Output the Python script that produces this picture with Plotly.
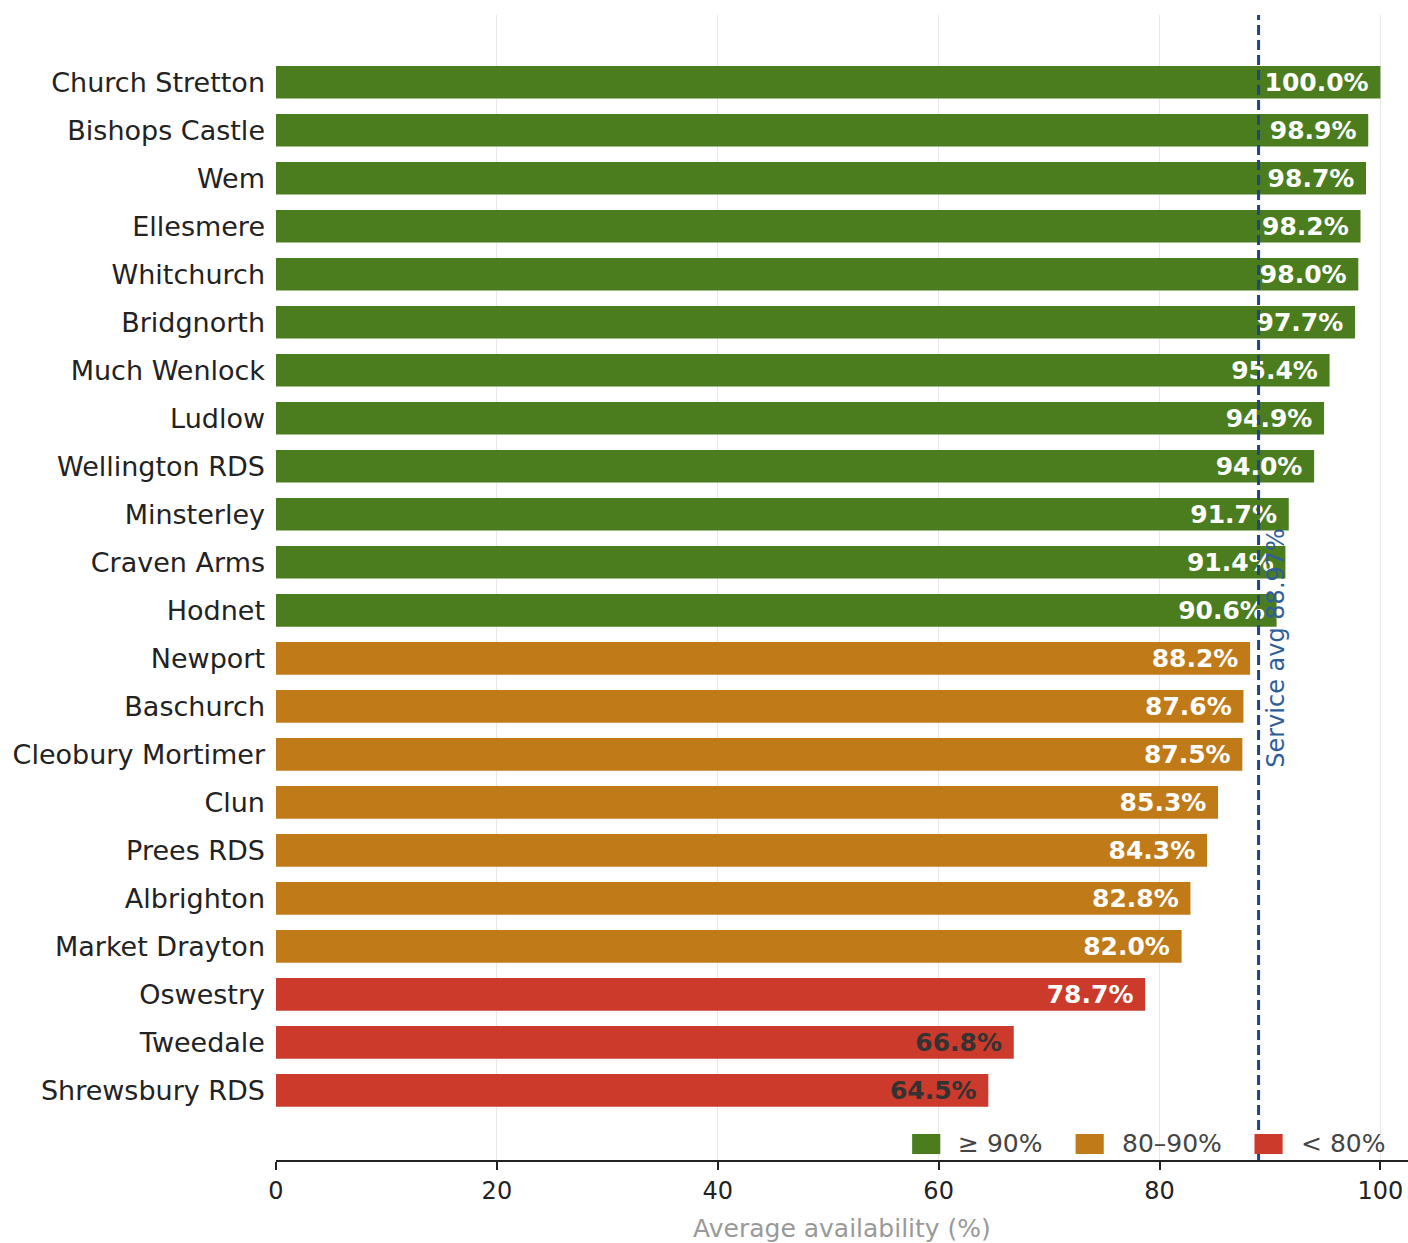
import plotly.graph_objects as go

stations = ["Church Stretton", "Bishops Castle", "Wem", "Ellesmere", "Whitchurch", "Bridgnorth",
            "Much Wenlock", "Ludlow", "Wellington RDS", "Minsterley", "Craven Arms", "Hodnet",
            "Newport", "Baschurch", "Cleobury Mortimer", "Clun", "Prees RDS", "Albrighton",
            "Market Drayton", "Oswestry", "Tweedale", "Shrewsbury RDS"]
availability = [100.0, 98.9, 98.7, 98.2, 98.0, 97.7, 95.4, 94.9, 94.0, 91.7, 91.4, 90.6,
                88.2, 87.6, 87.5, 85.3, 84.3, 82.8, 82.0, 78.7, 66.8, 64.5]
service_avg = 88.97
x_ticks = [0, 20, 40, 60, 80, 100]

groups = [
    ("≥ 90%", "#4b7d1f", lambda v: v >= 90),
    ("80–90%", "#c17a18", lambda v: 80 <= v < 90),
    ("< 80%", "#cc3a2c", lambda v: v < 80),
]

fig = go.Figure()
for name, color, cond in groups:
    ys = [s for s, v in zip(stations, availability) if cond(v)]
    xs = [v for v in availability if cond(v)]
    tcolors = ["#ffffff" if v >= 70 else "#333333" for v in xs]
    fig.add_trace(go.Bar(
        y=ys, x=xs, orientation="h", name=name,
        marker=dict(color=color, line=dict(width=0)),
        width=0.68,
        text=[f"{v:.1f}%\u00a0" for v in xs],
        textposition="inside", insidetextanchor="end",
        constraintext="none", textangle=0,
        textfont=dict(family="DejaVu Sans", size=25, color=tcolors, weight="bold"),
        cliponaxis=False, showlegend=False,
    ))

fig.add_shape(type="line", x0=service_avg, x1=service_avg, y0=0, y1=1,
              xref="x", yref="paper",
              line=dict(color="#1f4680", width=3, dash="10px,5px"))
fig.add_annotation(x=service_avg, y=0.447, xref="x", yref="paper",
                   text=f"Service avg {service_avg:.2f}%", textangle=-90,
                   showarrow=False, xanchor="left", yanchor="middle", xshift=2,
                   font=dict(family="DejaVu Sans", size=24, color="#2e5e98"))

# legend drawn manually (squares + labels) in the lower-right corner of the plot
legend_items = [("≥ 90%", "#4b7d1f", 57.6), ("80–90%", "#c17a18", 72.4), ("< 80%", "#cc3a2c", 88.6)]
for label, color, x0 in legend_items:
    fig.add_shape(type="rect", x0=x0, x1=x0 + 2.55, y0=0.0052, y1=0.0227,
                  xref="x", yref="paper", fillcolor=color, line=dict(width=0))
    fig.add_annotation(x=x0 + 2.55, y=0.0145, xref="x", yref="paper", text=label,
                       showarrow=False, xanchor="left", yanchor="middle", xshift=16,
                       font=dict(family="DejaVu Sans", size=25, color="#444444"))

fig.update_layout(
    width=1408, height=1243,
    margin=dict(l=276, r=0, t=15, b=83),
    plot_bgcolor="white", paper_bgcolor="white",
    font=dict(family="DejaVu Sans", color="#222222"),
    barmode="overlay",
    showlegend=False,
    xaxis=dict(range=[0, 102.5], tickvals=x_ticks, ticktext=[str(t) for t in x_ticks],
               showgrid=True, gridcolor="#e8e8e8", gridwidth=1,
               showline=True, linecolor="#222222", linewidth=2,
               ticks="outside", ticklen=8, tickwidth=2, tickcolor="#222222",
               tickfont=dict(size=24, color="#222222"),
               title=dict(text="Average availability (%)", font=dict(size=25, color="#999999"),
                          standoff=16),
               zeroline=False),
    yaxis=dict(categoryorder="array", categoryarray=stations,
               range=[22.45, -1.4], showgrid=False, showline=False,
               ticks="", tickfont=dict(size=27, color="#222222"),
               ticklabelstandoff=10),
)

fig.write_html("out.html")
